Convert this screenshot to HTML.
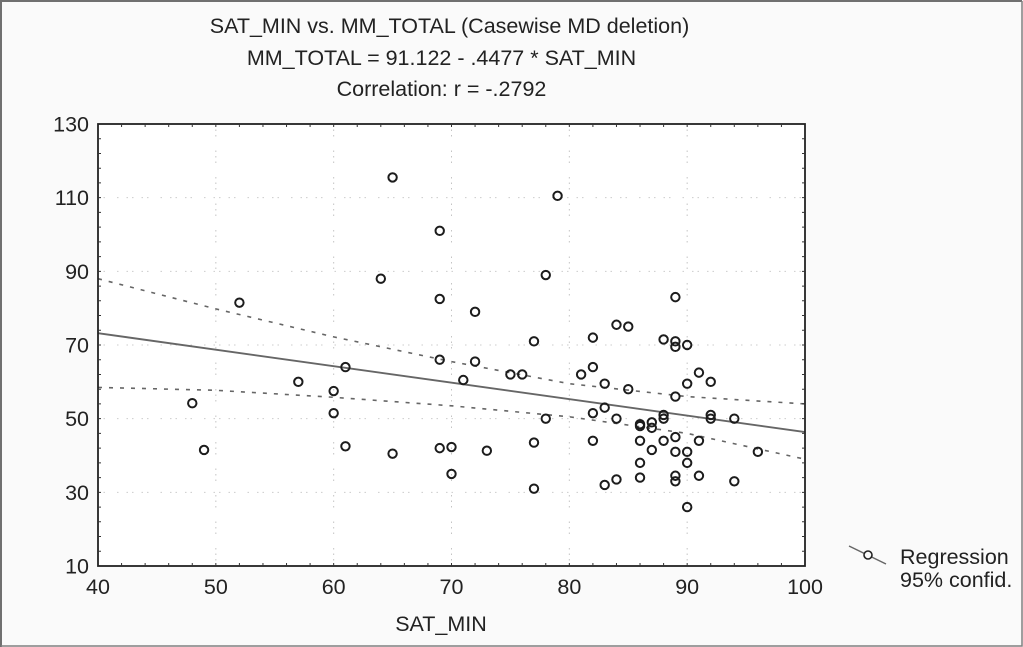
<!DOCTYPE html>
<html><head><meta charset="utf-8"><title>SAT_MIN vs. MM_TOTAL</title>
<style>
html,body{margin:0;padding:0;background:#fafafa;}
svg{display:block;font-family:"Liberation Sans",Arial,sans-serif;}
text{fill:#222;font-size:21.5px;}
</style></head>
<body>
<svg id="chart" width="1023" height="647" viewBox="0 0 1023 647" xmlns="http://www.w3.org/2000/svg">
<rect x="0.5" y="0.5" width="1022" height="646" fill="#fafafa" stroke="none"/>
<path d="M1 647V1H1022" fill="none" stroke="#707070" stroke-width="2"/>
<path d="M1022 1V646H1" fill="none" stroke="#808080" stroke-width="1.5"/>
<text x="449.5" y="33" text-anchor="middle">SAT_MIN vs. MM_TOTAL (Casewise MD deletion)</text>
<text x="441.5" y="65" text-anchor="middle">MM_TOTAL = 91.122 - .4477 * SAT_MIN</text>
<text x="441.5" y="96" text-anchor="middle">Correlation: r = -.2792</text>
<rect x="98" y="124" width="707" height="442" fill="#fff"/>
<g id="grid"></g>
<g id="lines"></g>
<g id="points"></g>
<rect x="98" y="124" width="707" height="442" fill="none" stroke="#222" stroke-width="1.8"/>
<g id="ticks"></g>
<g id="labels"></g>
<text x="441" y="631" text-anchor="middle">SAT_MIN</text>
<line x1="849" y1="546" x2="886" y2="564" stroke="#666" stroke-width="1.5"/>
<circle cx="868" cy="555" r="4" fill="#fafafa" stroke="#222" stroke-width="1.6"/>
<text x="900" y="564">Regression</text>
<text x="900" y="587">95% confid.</text>
</svg>
<script>
const xTicks = [40, 50, 60, 70, 80, 90, 100];
const yTicks = [10, 30, 50, 70, 90, 110, 130];
const satMin = [48,49,52,57,60,60,61,61,64,65,65,69,69,69,69,70,70,71,72,72,73,75,76,77,77,77,78,78,79,81,82,82,82,82,83,83,83,84,84,84,85,85,86,86,86,86,86,87,87,87,88,88,88,88,89,89,89,89,89,89,89,89,90,90,90,90,90,91,91,91,92,92,92,94,94,96];
const mmTotal = [54.2,41.5,81.5,60,57.5,51.5,64,42.5,88,115.5,40.5,101,82.5,66,42,42.3,35,60.5,79,65.5,41.3,62,62,71,43.5,31,89,50,110.5,62,72,64,51.5,44,59.5,53,32,75.5,50,33.5,75,58,48.5,48,44,38,34,49,47.5,41.5,71.5,51,50,44,83,71,69.5,56,45,41,34.5,33,70,59.5,41,38,26,62.5,44,34.5,60,51,50,50,33,41];
const regressionX = [40, 100];
const regressionY = [73.2, 46.35];
const ciX = [40, 50, 60, 70, 80, 90, 100];
const ciUpper = [88, 79.8, 72.2, 65.5, 59.5, 56, 54];
const ciLower = [58.5, 57.7, 55.8, 53.5, 50.5, 46, 39];

const NS = 'http://www.w3.org/2000/svg';
const xScale = v => 98 + (v - 40) * 707 / 60;
const yScale = v => 566 - (v - 10) * 442 / 120;
const pathFor = (xs, ys) => xs.map((x, i) => (i ? 'L' : 'M') + xScale(x).toFixed(1) + ' ' + yScale(ys[i]).toFixed(1)).join('');
const gridG = document.getElementById('grid');
const linesG = document.getElementById('lines');
const pointsG = document.getElementById('points');
const ticksG = document.getElementById('ticks');
const labelsG = document.getElementById('labels');

xTicks.slice(1, -1).forEach(t => {
  const el = document.createElementNS(NS, 'line');
  
  
  el.setAttribute('x1', xScale(t));
  el.setAttribute('x2', xScale(t));
  el.setAttribute('y1', 124);
  el.setAttribute('y2', 566);
  el.setAttribute('stroke', '#c4c4c4');
  el.setAttribute('stroke-dasharray', '1.5 4 1.5 4 1.5 14');
  gridG.appendChild(el);
});
yTicks.slice(1, -1).forEach(t => {
  const el = document.createElementNS(NS, 'line');
  
  
  el.setAttribute('x1', 98);
  el.setAttribute('x2', 805);
  el.setAttribute('y1', yScale(t));
  el.setAttribute('y2', yScale(t));
  el.setAttribute('stroke', '#ccc');
  el.setAttribute('stroke-dasharray', '1.5 4 1.5 12 1.5 8 1.5 4 1.5 8');
  gridG.appendChild(el);
});

const upper = document.createElementNS(NS, 'path');


upper.setAttribute('d', pathFor(ciX, ciUpper));
upper.setAttribute('fill', 'none');
upper.setAttribute('stroke', '#666');
upper.setAttribute('stroke-width', '1.6');
upper.setAttribute('stroke-dasharray', '4 7');
linesG.appendChild(upper);

const lower = document.createElementNS(NS, 'path');


lower.setAttribute('d', pathFor(ciX, ciLower));
lower.setAttribute('fill', 'none');
lower.setAttribute('stroke', '#666');
lower.setAttribute('stroke-width', '1.6');
lower.setAttribute('stroke-dasharray', '4 7');
linesG.appendChild(lower);

const reg = document.createElementNS(NS, 'path');


reg.setAttribute('d', pathFor(regressionX, regressionY));
reg.setAttribute('fill', 'none');
reg.setAttribute('stroke', '#666');
reg.setAttribute('stroke-width', '1.9');
linesG.appendChild(reg);

satMin.forEach((x, i) => {
  const c = document.createElementNS(NS, 'circle');
  
  
  c.setAttribute('cx', xScale(x));
  c.setAttribute('cy', yScale(mmTotal[i]));
  c.setAttribute('r', 4.2);
  c.setAttribute('fill', 'none');
  c.setAttribute('stroke', '#1c1c1c');
  c.setAttribute('stroke-width', '2');
  pointsG.appendChild(c);
});

for (let v = 42; v < 100; v += 2) {
  const el = document.createElementNS(NS, 'path');
  
  
  el.setAttribute('d', 'M' + xScale(v) + ' 124v3M' + xScale(v) + ' 566v-3');
  el.setAttribute('stroke', '#333');
  ticksG.appendChild(el);
}
for (let v = 14; v < 130; v += 4) {
  const el = document.createElementNS(NS, 'path');
  
  
  el.setAttribute('d', 'M98 ' + yScale(v) + 'h3M805 ' + yScale(v) + 'h-3');
  el.setAttribute('stroke', '#333');
  ticksG.appendChild(el);
}

xTicks.forEach(t => {
  const el = document.createElementNS(NS, 'text');
  
  
  el.setAttribute('x', xScale(t));
  el.setAttribute('y', 594);
  el.setAttribute('text-anchor', 'middle');
  el.textContent = t;
  labelsG.appendChild(el);
});
yTicks.forEach(t => {
  const el = document.createElementNS(NS, 'text');
  
  
  el.setAttribute('x', 89);
  el.setAttribute('y', yScale(t) + 7.5);
  el.setAttribute('text-anchor', 'end');
  el.textContent = t;
  labelsG.appendChild(el);
});
</script>
</body></html>
